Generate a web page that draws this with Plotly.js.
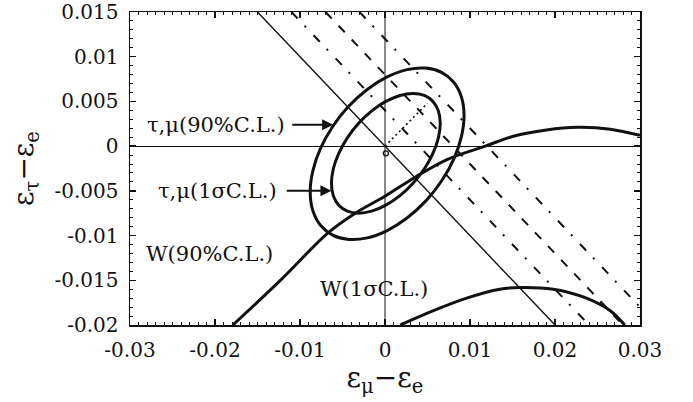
<!DOCTYPE html>
<html>
<head>
<meta charset="utf-8">
<script src="https://cdn.plot.ly/plotly-3.0.1.min.js"></script>
<style>html,body{margin:0;padding:0;background:#fff;}#chart{width:693px;height:402px;}</style>
</head>
<body>
<div id="chart"></div>
<script>
// ---- data ----
const xTickVals = [-0.03, -0.02, -0.01, 0, 0.01, 0.02, 0.03];
const xTickText = ["-0.03", "-0.02", "-0.01", "0", "0.01", "0.02", "0.03"];
const yTickVals = [0.015, 0.01, 0.005, 0, -0.005, -0.01, -0.015, -0.02];
const yTickText = ["0.015", "0.01", "0.005", "0", "-0.005", "-0.01", "-0.015", "-0.02"];
const minorStep = 0.001;

// tau,mu 90% C.L. contour
const outerX = [0.0093, 0.00899, 0.00809, 0.00665, 0.00478, 0.00259, 0.00025, -0.00209, -0.00428, -0.00615, -0.00759, -0.00849, -0.0088, -0.00849, -0.00759, -0.00615, -0.00428, -0.00209, 0.00025, 0.00259, 0.00478, 0.00665, 0.00809, 0.00899, 0.0093];
const outerY = [0.00343, 0.00551, 0.00715, 0.00825, 0.00873, 0.00856, 0.00774, 0.00634, 0.00445, 0.0022, -0.00026, -0.00276, -0.00513, -0.00721, -0.00885, -0.00995, -0.01043, -0.01026, -0.00944, -0.00804, -0.00615, -0.0039, -0.00144, 0.00106, 0.00343];
// tau,mu 1 sigma contour
const innerX = [0.0065, 0.00628, 0.00564, 0.00463, 0.0033, 0.00176, 0.0001, -0.00156, -0.0031, -0.00443, -0.00544, -0.00608, -0.0063, -0.00608, -0.00544, -0.00443, -0.0031, -0.00156, 0.0001, 0.00176, 0.0033, 0.00463, 0.00564, 0.00628, 0.0065];
const innerY = [0.00255, 0.00394, 0.005, 0.00567, 0.0059, 0.00567, 0.005, 0.00394, 0.00255, 0.00093, -0.0008, -0.00253, -0.00415, -0.00554, -0.0066, -0.00727, -0.0075, -0.00727, -0.0066, -0.00554, -0.00415, -0.00253, -0.0008, 0.00093, 0.00255];
// W 90% C.L. curve
const w90X = [-0.0179, -0.0124, -0.0067, -0.0035, 0, 0.0035, 0.0073, 0.0118, 0.0151, 0.019, 0.0226, 0.0265, 0.03];
const w90Y = [-0.02, -0.0151, -0.0097, -0.0075, -0.0056, -0.0035, -0.0015, 0, 0.0011, 0.0018, 0.0021, 0.0019, 0.0012];
// W 1 sigma curve
const w1sX = [0.0018, 0.0057, 0.0096, 0.0135, 0.0159, 0.0198, 0.0237, 0.0265, 0.0282];
const w1sY = [-0.02, -0.0184, -0.0170, -0.0160, -0.0158, -0.0160, -0.0170, -0.0184, -0.02];
// straight lines
const diagX = [-0.015, 0.02], diagY = [0.015, -0.02];
const dd1X = [-0.011, 0.024], dd1Y = [0.015, -0.02];
const dashX = [-0.007, 0.028], dashY = [0.015, -0.02];
const dd2X = [-0.003, 0.03], dd2Y = [0.015, -0.018];
const dotX = [0, 0.005], dotY = [0, 0.0048];
const bestX = [0.0001], bestY = [-0.0008];

// ---- drawing ----
const K = '#111';
const FONT = 'DejaVu Serif';
const X_RANGE = [-0.03, 0.03], Y_RANGE = [-0.02, 0.015];
function stepsIn(r) {
  const out = [];
  const n0 = Math.round(r[0] / minorStep), n1 = Math.round(r[1] / minorStep);
  for (let n = n0; n <= n1; n++) out.push(+(n * minorStep).toFixed(6));
  return out;
}
function ln(x, y, width, dash, shape) {
  return {x: x, y: y, type: 'scatter', mode: 'lines', hoverinfo: 'skip',
          line: {color: K, width: width, dash: dash || 'solid', shape: shape || 'linear'}};
}
const traces = [
  ln(diagX, diagY, 1.4),
  ln(dd1X, dd1Y, 2, '9px,10px,2px,11px'),
  ln(dashX, dashY, 2, '9px,10px'),
  ln(dd2X, dd2Y, 2, '9px,10px,2px,11px'),
  ln(dotX, dotY, 1.6, '2px,3px'),
  ln(outerX, outerY, 3, 'solid', 'spline'),
  ln(innerX, innerY, 3, 'solid', 'spline'),
  ln(w90X, w90Y, 3, 'solid', 'spline'),
  ln(w1sX, w1sY, 3, 'solid', 'spline'),
  {x: bestX, y: bestY, type: 'scatter', mode: 'markers', hoverinfo: 'skip',
   marker: {symbol: 'circle-open', size: 5, color: K, line: {width: 1.3, color: K}}}
];

const axisCommon = {
  ticks: 'inside', ticklen: 6, tickwidth: 1.3, tickcolor: K,
  showline: true, linewidth: 1.5, linecolor: K, mirror: 'allticks',
  showgrid: false, tickmode: 'array',
  tickfont: {family: FONT, size: 20, color: K},
  ticklabelstandoff: 6, ticklabeloverflow: 'allow'
};
function minorOf(r) {
  return {tickmode: 'array', tickvals: stepsIn(r), ticks: 'inside', ticklen: 3, tickwidth: 1, tickcolor: K, showgrid: false};
}

const layout = {
  width: 693, height: 402,
  margin: {l: 130, r: 53, t: 12, b: 77},
  paper_bgcolor: '#fff', plot_bgcolor: '#fff',
  showlegend: false,
  font: {family: FONT, color: K},
  xaxis: Object.assign({}, axisCommon, {
    range: X_RANGE, tickvals: xTickVals, ticktext: xTickText, minor: minorOf(X_RANGE),
    zeroline: true, zerolinecolor: '#888', zerolinewidth: 1.5,
    title: {text: 'ε<sub>μ</sub>−ε<sub>e</sub>', font: {family: FONT, size: 28, color: K}, standoff: 6}
  }),
  yaxis: Object.assign({}, axisCommon, {
    range: Y_RANGE, tickvals: yTickVals, ticktext: yTickText, minor: minorOf(Y_RANGE),
    zeroline: true, zerolinecolor: K, zerolinewidth: 1,
    title: {text: 'ε<sub>τ</sub>−ε<sub>e</sub>', font: {family: FONT, size: 28, color: K}, standoff: 12}
  }),
  annotations: [
    {xref: 'x', yref: 'y', x: -0.0061, y: 0.0024, axref: 'x', ayref: 'y', ax: -0.0115, ay: 0.0024,
     xanchor: 'right', yanchor: 'middle', startstandoff: 5,
     text: 'τ,μ(90%C.L.)', font: {family: FONT, size: 21, color: K},
     showarrow: true, arrowhead: 2, arrowsize: 1.1, arrowwidth: 2, arrowcolor: K},
    {xref: 'x', yref: 'y', x: -0.0063, y: -0.0050, axref: 'x', ayref: 'y', ax: -0.0125, ay: -0.0050,
     xanchor: 'right', yanchor: 'middle', startstandoff: 8,
     text: 'τ,μ(1σC.L.)', font: {family: FONT, size: 21, color: K},
     showarrow: true, arrowhead: 2, arrowsize: 1.1, arrowwidth: 2, arrowcolor: K},
    {xref: 'x', yref: 'y', x: -0.0283, y: -0.0121, xanchor: 'left', yanchor: 'middle', showarrow: false,
     text: 'W(90%C.L.)', font: {family: FONT, size: 21, color: K}},
    {xref: 'x', yref: 'y', x: -0.0079, y: -0.0160, xanchor: 'left', yanchor: 'middle', showarrow: false,
     text: 'W(1σC.L.)', font: {family: FONT, size: 21, color: K}}
  ]
};

Plotly.newPlot('chart', traces, layout, {staticPlot: true, displayModeBar: false});
</script>
</body>
</html>
